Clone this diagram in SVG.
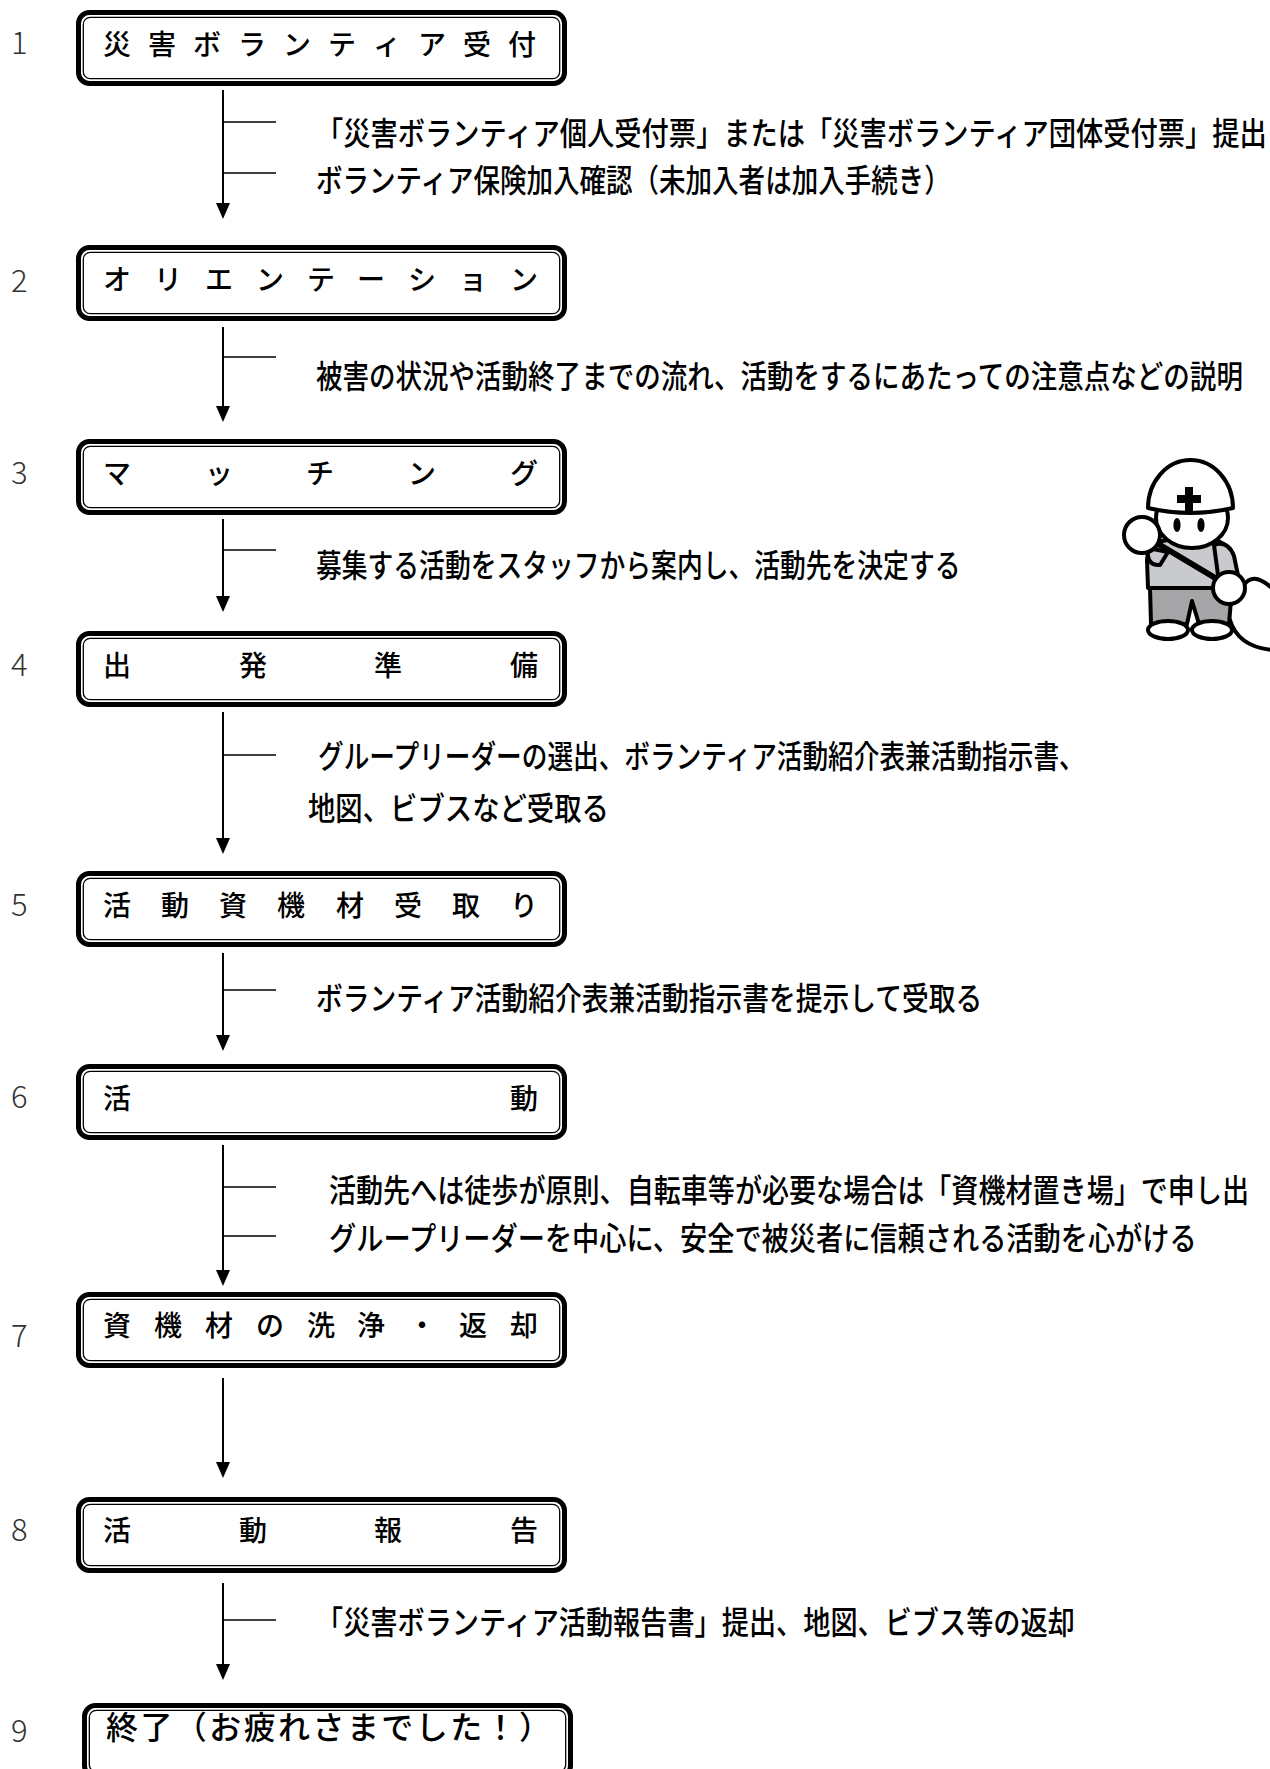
<svg xmlns="http://www.w3.org/2000/svg" width="1270" height="1769" viewBox="0 0 1270 1769">
  <style>
    .num { font-family: "Noto Sans CJK JP Light", "Noto Sans CJK JP", "Liberation Sans", sans-serif; font-size: 31px; font-weight: 300; fill: #333; dominant-baseline: central; }
    .title { font-family: "Noto Sans CJK JP", sans-serif; font-size: 28px; font-weight: 500; fill: #000; dominant-baseline: central; }
    .title-wide { font-family: "Noto Sans CJK JP", sans-serif; font-size: 32px; font-weight: 500; fill: #000; dominant-baseline: central; }
    .desc { font-family: "Noto Sans CJK JP", sans-serif; font-size: 32px; font-weight: 500; fill: #000; dominant-baseline: central; }
    .frame-outer { fill: #fff; stroke: #000; stroke-width: 5; }
    .frame-inner { fill: none; stroke: #000; stroke-width: 1.3; }
    .flow { fill: none; stroke: #000; stroke-width: 2; }
    .tick { fill: none; stroke: #000; stroke-width: 1.5; }
    .ol { stroke: #000; stroke-width: 4; stroke-linejoin: round; stroke-linecap: round; }
  </style>
  <defs>
    <marker id="arrowhead" markerUnits="userSpaceOnUse" viewBox="0 0 16 14" markerWidth="16" markerHeight="14" refX="14" refY="7" orient="auto">
      <path d="M0,0 L16,7 L0,14 Z" fill="#000"/>
    </marker>
    <!-- double-lined rounded frame used by every step box -->
    <g id="frame">
      <rect class="frame-outer" x="2.5" y="2.5" width="486" height="71" rx="11"/>
      <rect class="frame-inner" x="7.3" y="7.3" width="476.4" height="61.4" rx="7"/>
    </g>
  </defs>

  <rect width="1270" height="1769" fill="#fff"/>

  <!-- step numbers -->
  <g id="step-numbers">
    <text class="num" x="11" y="40">1</text>
    <text class="num" x="11" y="278">2</text>
    <text class="num" x="11" y="470">3</text>
    <text class="num" x="11" y="662">4</text>
    <text class="num" x="11" y="902">5</text>
    <text class="num" x="11" y="1094">6</text>
    <text class="num" x="11" y="1333">7</text>
    <text class="num" x="11" y="1527">8</text>
    <text class="num" x="11" y="1728">9</text>
  </g>

  <!-- step boxes -->
  <g id="step1">
    <use href="#frame" x="76" y="10"/>
    <text class="title" x="103 148 193 238 283 328 373 418 463 508" y="43">災害ボランティア受付</text>
  </g>
  <g id="step2">
    <use href="#frame" x="76" y="245"/>
    <text class="title" x="103 154 205 256 307 357 408 459 510" y="278">オリエンテーション</text>
  </g>
  <g id="step3">
    <use href="#frame" x="76" y="439"/>
    <text class="title" x="103 205 306 408 510" y="472">マッチング</text>
  </g>
  <g id="step4">
    <use href="#frame" x="76" y="631"/>
    <text class="title" x="103 239 374 510" y="664">出発準備</text>
  </g>
  <g id="step5">
    <use href="#frame" x="76" y="871"/>
    <text class="title" x="103 161 219 277 336 394 452 510" y="904">活動資機材受取り</text>
  </g>
  <g id="step6">
    <use href="#frame" x="76" y="1064"/>
    <text class="title" x="103 510" y="1097">活動</text>
  </g>
  <g id="step7">
    <use href="#frame" x="76" y="1292"/>
    <text class="title" x="103 154 205 256 307 357 408 459 510" y="1324">資機材の洗浄・返却</text>
  </g>
  <g id="step8">
    <use href="#frame" x="76" y="1497"/>
    <text class="title" x="103 239 374 510" y="1529">活動報告</text>
  </g>
  <g id="step9">
    <use href="#frame" x="82" y="1703"/>
    <text class="title-wide" x="106" y="1725" textLength="445" lengthAdjust="spacing">終了（お疲れさまでした！）</text>
  </g>

  <!-- connectors between steps, with side ticks for the notes -->
  <g id="connectors">
    <path class="flow" d="M223,90 V217" marker-end="url(#arrowhead)"/>
    <path class="tick" d="M223,122 H276 M223,173 H276"/>
    <path class="flow" d="M223,327 V420" marker-end="url(#arrowhead)"/>
    <path class="tick" d="M223,357 H276"/>
    <path class="flow" d="M223,519 V610" marker-end="url(#arrowhead)"/>
    <path class="tick" d="M223,550 H276"/>
    <path class="flow" d="M223,712 V852" marker-end="url(#arrowhead)"/>
    <path class="tick" d="M223,755 H276"/>
    <path class="flow" d="M223,953 V1049" marker-end="url(#arrowhead)"/>
    <path class="tick" d="M223,990 H276"/>
    <path class="flow" d="M223,1145 V1284" marker-end="url(#arrowhead)"/>
    <path class="tick" d="M223,1187 H276 M223,1236 H276"/>
    <path class="flow" d="M223,1378 V1476" marker-end="url(#arrowhead)"/>
    <path class="flow" d="M223,1583 V1678" marker-end="url(#arrowhead)"/>
    <path class="tick" d="M223,1620 H276"/>
  </g>

  <!-- notes beside the connectors, set in a narrowed gothic -->
  <g id="notes">
    <text class="desc" transform="translate(316,132) scale(0.852,1)">「災害ボランティア個人受付票」または「災害ボランティア団体受付票」提出</text>
    <text class="desc" transform="translate(316,178) scale(0.829,1)">ボランティア保険加入確認（未加入者は加入手続き）</text>
    <text class="desc" transform="translate(316,374) scale(0.829,1)">被害の状況や活動終了までの流れ、活動をするにあたっての注意点などの説明</text>
    <text class="desc" transform="translate(316,563) scale(0.806,1)">募集する活動をスタッフから案内し、活動先を決定する</text>
    <text class="desc" transform="translate(318,754) scale(0.802,1)">グループリーダーの選出、ボランティア活動紹介表兼活動指示書、</text>
    <text class="desc" transform="translate(308,806) scale(0.855,1)">地図、ビブスなど受取る</text>
    <text class="desc" transform="translate(316,996) scale(0.836,1)">ボランティア活動紹介表兼活動指示書を提示して受取る</text>
    <text class="desc" transform="translate(329,1189) scale(0.846,1)">活動先へは徒歩が原則、自転車等が必要な場合は「資機材置き場」で申し出</text>
    <text class="desc" transform="translate(329,1237) scale(0.85,1)">グループリーダーを中心に、安全で被災者に信頼される活動を心がける</text>
    <text class="desc" transform="translate(316,1621) scale(0.849,1)">「災害ボランティア活動報告書」提出、地図、ビブス等の返却</text>
  </g>

  <!-- volunteer in a helmet holding a hose -->
  <g id="volunteer">
    <path class="ol" fill="none" d="M1230,620 C1236,640 1252,648 1272,650"/>
    <path class="ol" fill="#c9cacd" d="M1148,588 L1147,560 Q1148,542 1168,540 L1212,540 Q1228,541 1232,560 L1236,588 Z"/>
    <path class="ol" fill="#a5a5a7" d="M1150,588 L1232,588 L1229,624 L1199,624 L1192,601 L1187,624 L1151,624 Z"/>
    <ellipse class="ol" fill="#fff" cx="1168" cy="630" rx="20" ry="9"/>
    <ellipse class="ol" fill="#fff" cx="1212" cy="630" rx="20" ry="9"/>
    <path class="ol" fill="#c9cacd" d="M1214,545 Q1228,540 1234,556 L1240,585 L1220,590 Z"/>
    <path fill="none" stroke="#000" stroke-width="6" stroke-linecap="round" d="M1160,545 L1222,582"/>
    <path class="ol" fill="none" d="M1243,586 C1250,576 1258,576 1272,588"/>
    <circle class="ol" fill="#fff" cx="1229" cy="588" r="16"/>
    <ellipse class="ol" fill="#fff" cx="1192" cy="518" rx="36" ry="30"/>
    <ellipse cx="1177" cy="525" rx="3.6" ry="7" fill="#000"/>
    <ellipse cx="1201" cy="525" rx="3.6" ry="7" fill="#000"/>
    <path class="ol" fill="#fff" d="M1148,508 A42.5,48 0 0 1 1233,508 Q1190,518 1148,508 Z"/>
    <path fill="#000" d="M1185,487 H1193 V495 H1201 V503 H1193 V511 H1185 V503 H1177 V495 H1185 Z"/>
    <path class="ol" fill="#c9cacd" d="M1148,548 Q1146,566 1160,565 L1168,552 Z"/>
    <circle class="ol" fill="#fff" cx="1142" cy="535" r="18"/>
  </g>
</svg>
